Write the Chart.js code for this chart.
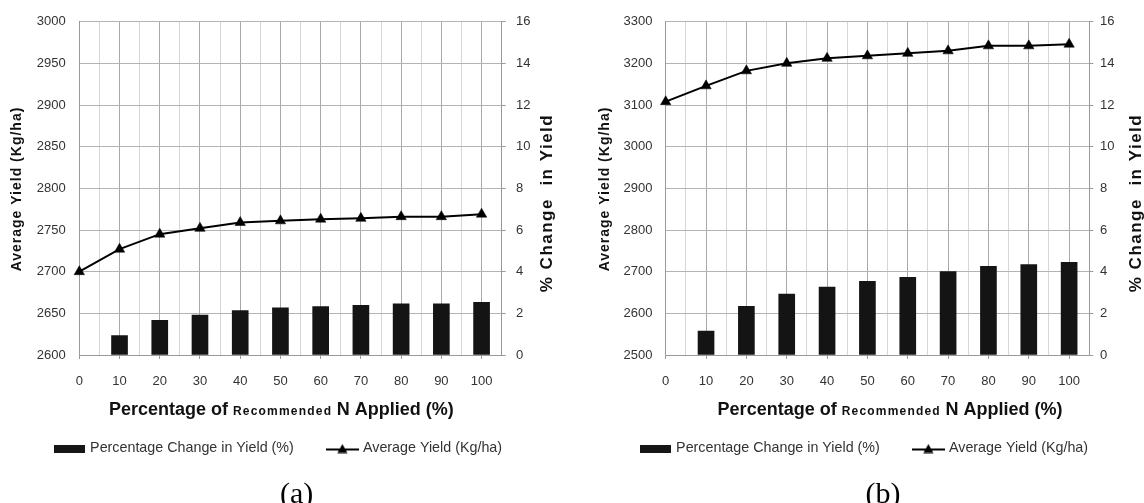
<!DOCTYPE html>
<html><head><meta charset="utf-8">
<script src="https://cdn.jsdelivr.net/npm/chart.js@4.4.1/dist/chart.umd.min.js"></script>
<style>
html,body{margin:0;padding:0;background:#fff;width:1144px;height:503px;overflow:hidden}
.panel{position:absolute;top:0;width:558px;height:503px}
canvas{display:block}
</style></head><body>
<div class="panel" style="left:0"><canvas id="ca" width="558" height="503"></canvas></div>
<div class="panel" style="left:586px"><canvas id="cb" width="558" height="503"></canvas></div>
<script>
// ---------- data ----------
const nApplied = [0, 10, 20, 30, 40, 50, 60, 70, 80, 90, 100];
const yieldA   = [2700, 2727, 2745, 2752, 2759, 2761, 2763, 2764, 2766, 2766, 2769];
const changeA  = [null, 0.93, 1.66, 1.92, 2.13, 2.26, 2.32, 2.38, 2.46, 2.46, 2.53];
const yieldB   = [3108, 3146, 3182, 3200, 3212, 3218, 3224, 3230, 3242, 3242, 3246];
const changeB  = [null, 1.15, 2.34, 2.93, 3.26, 3.54, 3.73, 4.00, 4.26, 4.34, 4.45];
const yieldTicksA = [2600, 2650, 2700, 2750, 2800, 2850, 2900, 2950, 3000];
const yieldTicksB = [2500, 2600, 2700, 2800, 2900, 3000, 3100, 3200, 3300];
const changeTicks = [0, 2, 4, 6, 8, 10, 12, 14, 16];
const xTitleParts = ['Percentage of ', 'Recommended ', 'N Applied (%)'];
const leftTitle = 'Average Yield (Kg/ha)';
const rightTitle = '% Change  in Yield';
const barLabel = 'Percentage Change in Yield (%)';
const lineLabel = 'Average Yield (Kg/ha)';
const captions = ['(a)', '(b)'];

// ---------- styling ----------
const SANS = '"Liberation Sans", Arial, sans-serif';
Chart.defaults.font.family = SANS;
Chart.defaults.color = '#333';

function barSwatch() {
  const c = document.createElement('canvas'); c.width = 31; c.height = 8;
  const g = c.getContext('2d'); g.fillStyle = '#161616'; g.fillRect(0, 0, 31, 8); return c;
}
function lineSwatch() {
  const c = document.createElement('canvas'); c.width = 33; c.height = 10;
  const g = c.getContext('2d');
  g.strokeStyle = '#000'; g.lineWidth = 2;
  g.beginPath(); g.moveTo(0, 6); g.lineTo(33, 6); g.stroke();
  g.fillStyle = '#000'; g.beginPath(); g.moveTo(16.5, 0.5); g.lineTo(21.5, 9.5); g.lineTo(11.5, 9.5); g.closePath(); g.fill();
  return c;
}
const BAR_SW = barSwatch(), LINE_SW = lineSwatch();

const titlesPlugin = {
  id: 'titles',
  afterDraw(chart, args, o) {
    const ctx = chart.ctx;
    ctx.save();
    ctx.fillStyle = '#111';
    const setLS = v => { if ('letterSpacing' in ctx) ctx.letterSpacing = v; };
    // x title (mixed sizes)
    const segs = [
      { t: xTitleParts[0], f: 'bold 18px ' + SANS, ls: '0px' },
      { t: xTitleParts[1], f: 'bold 12px ' + SANS, ls: '1.2px' },
      { t: xTitleParts[2], f: 'bold 18px ' + SANS, ls: '0px' }
    ];
    let total = 0;
    segs.forEach(s => { ctx.font = s.f; setLS(s.ls); s.w = ctx.measureText(s.t).width; total += s.w; });
    let x = o.xTitleX - total / 2;
    ctx.textAlign = 'left'; ctx.textBaseline = 'alphabetic';
    segs.forEach(s => { ctx.font = s.f; setLS(s.ls); ctx.fillText(s.t, x, 415); x += s.w; });
    // left title
    ctx.save(); ctx.font = 'bold 14px ' + SANS; setLS('1px');
    ctx.translate(o.leftTitleX, 189); ctx.rotate(-Math.PI / 2);
    ctx.textAlign = 'center'; ctx.textBaseline = 'middle'; ctx.fillText(leftTitle, 0, 0); ctx.restore();
    // right title
    ctx.save(); ctx.font = 'bold 17px ' + SANS; setLS('1.5px');
    ctx.translate(o.rightTitleX, 203); ctx.rotate(-Math.PI / 2);
    ctx.textAlign = 'center'; ctx.textBaseline = 'middle'; ctx.fillText(rightTitle, 0, 0); ctx.restore();
    // caption
    setLS('0px');
    ctx.font = '30px "Liberation Serif", "Times New Roman", serif';
    ctx.fillStyle = '#000'; ctx.textAlign = 'center'; ctx.textBaseline = 'alphabetic';
    ctx.fillText(o.caption, o.capX, 503);
    ctx.restore();
  }
};

function makeChart(P) {
  const H = 503, W = 558;
  const plotTop = 21.7, plotBottom = 355;
  const fs = 14.3, lp = 35, legendCenter = 448.5;
  const legendTop = legendCenter - lp - fs / 2;
  const legendH = fs + lp + 10;
  const xH = legendTop - plotBottom;
  const padBottom = H - (legendTop + legendH);
  const axisCol = '#9a9a9a';

  return new Chart(document.getElementById(P.id), {
    type: 'bar',
    data: {
      datasets: [
        {
          type: 'bar', label: barLabel, yAxisID: 'y1', order: 1,
          data: nApplied.map((x, i) => ({ x, y: P.change[i] })),
          backgroundColor: '#141414', borderWidth: 0, barThickness: 16
        },
        {
          type: 'line', label: lineLabel, yAxisID: 'y', order: 0,
          data: nApplied.map((x, i) => ({ x, y: P.yield[i] })),
          borderColor: '#000', borderWidth: 2, tension: 0, clip: false,
          pointStyle: 'triangle', pointRadius: 6, pointBackgroundColor: '#000',
          pointBorderColor: '#000', pointBorderWidth: 0.5
        }
      ]
    },
    options: {
      responsive: false, animation: false,
      layout: { padding: { top: plotTop, left: 0, right: 0, bottom: padBottom } },
      scales: {
        x: {
          type: 'linear', min: 0, max: 105, offset: false,
          grid: {
            offset: false, tickLength: 4,
            color: c => (c.tick && c.tick.value % 10 === 0) ? '#a9a9a9' : '#d6d6d6',
            tickColor: c => (c.tick && c.tick.value % 10 === 0) ? axisCol : 'rgba(0,0,0,0)'
          },
          border: { display: true, color: axisCol },
          afterBuildTicks: s => { const t = []; for (let v = 0; v <= 105; v += 5) t.push({ value: v }); s.ticks = t; },
          ticks: {
            autoSkip: false, maxRotation: 0, padding: 14.5, font: { size: 13 }, color: '#333',
            callback: v => nApplied.includes(v) ? String(v) : ''
          },
          afterFit: s => { s.height = xH; }
        },
        y: {
          type: 'linear', position: 'left',
          min: P.yTicks[0], max: P.yTicks[P.yTicks.length - 1],
          grid: { color: '#b3b3b3', drawTicks: false },
          border: { display: true, color: axisCol },
          afterBuildTicks: s => { s.ticks = P.yTicks.map(v => ({ value: v })); },
          ticks: { padding: P.leftPad, font: { size: 13 }, color: '#333', callback: v => String(v) },
          afterFit: s => { s.width = P.plotLeft; }
        },
        y1: {
          type: 'linear', position: 'right',
          min: changeTicks[0], max: changeTicks[changeTicks.length - 1],
          grid: { drawOnChartArea: false, drawTicks: true, tickLength: 4, tickColor: axisCol },
          border: { display: true, color: axisCol },
          afterBuildTicks: s => { s.ticks = changeTicks.map(v => ({ value: v })); },
          ticks: { padding: P.rightPad, font: { size: 13 }, color: '#333', callback: v => String(v) },
          afterFit: s => { s.width = W - P.plotRight; }
        }
      },
      plugins: {
        tooltip: { enabled: false },
        legend: {
          position: 'bottom',
          labels: {
            usePointStyle: true, pointStyleWidth: 27, boxHeight: 8,
            font: { size: fs }, color: '#333', padding: lp,
            sort: (a, b) => a.datasetIndex - b.datasetIndex,
            generateLabels(chart) {
              const items = Chart.defaults.plugins.legend.labels.generateLabels(chart);
              items.forEach(it => { it.pointStyle = chart.data.datasets[it.datasetIndex].type === 'line' ? LINE_SW : BAR_SW; });
              return items;
            }
          }
        },
        titles: P
      }
    },
    plugins: [titlesPlugin]
  });
}

makeChart({ id: 'ca', yield: yieldA, change: changeA, yTicks: yieldTicksA,
  plotLeft: 79.3, plotRight: 501.7, leftPad: 13.6, rightPad: 10.3,
  xTitleX: 281.3, capX: 296.7, leftTitleX: 17.5, rightTitleX: 547.5, caption: captions[0] });
makeChart({ id: 'cb', yield: yieldB, change: changeB, yTicks: yieldTicksB,
  plotLeft: 79.7, plotRight: 503.3, leftPad: 13.2, rightPad: 6.7,
  xTitleX: 304, capX: 297, leftTitleX: 19, rightTitleX: 550, caption: captions[1] });
</script>
</body></html>
